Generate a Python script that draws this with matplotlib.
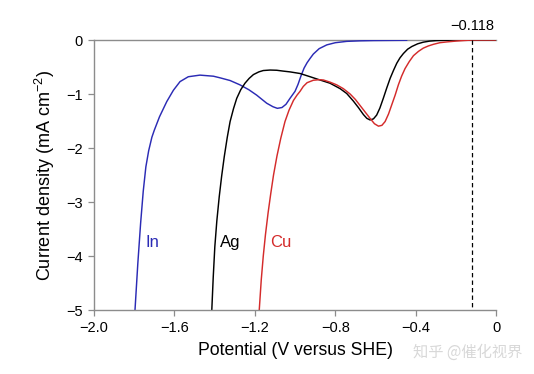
import matplotlib.pyplot as plt

plt.rcParams['font.family'] = ['Liberation Sans', 'DejaVu Sans']

# ---------------------------
# Data (V vs SHE, mA cm^-2)
# ---------------------------
in_v = [-1.796, -1.782, -1.768, -1.755, -1.742, -1.728, -1.712, -1.700, -1.674, -1.638,
        -1.605, -1.572, -1.531, -1.473, -1.406, -1.373, -1.323, -1.274, -1.230, -1.191,
        -1.141, -1.110, -1.088, -1.065, -1.045, -1.025, -1.000, -0.985, -0.970, -0.955,
        -0.940, -0.925, -0.909, -0.880, -0.842, -0.800, -0.743, -0.676, -0.610, -0.444]
in_j = [-5.00, -4.14, -3.39, -2.80, -2.35, -2.05, -1.80, -1.67, -1.42, -1.14,
        -0.93, -0.77, -0.68, -0.65, -0.67, -0.70, -0.75, -0.83, -0.92, -1.02,
        -1.17, -1.235, -1.265, -1.25, -1.19, -1.08, -0.95, -0.82, -0.66, -0.52,
        -0.42, -0.34, -0.26, -0.16, -0.09, -0.05, -0.025, -0.015, -0.01, -0.005]

ag_v = [-1.414, -1.407, -1.399, -1.389, -1.377, -1.365, -1.352, -1.337, -1.323, -1.306,
        -1.290, -1.270, -1.249, -1.228, -1.207, -1.180, -1.158, -1.124, -1.091, -1.060,
        -1.025, -0.975, -0.925, -0.876, -0.826, -0.776, -0.743, -0.710, -0.685, -0.660,
        -0.643, -0.627, -0.610, -0.594, -0.578, -0.561, -0.544, -0.527, -0.510, -0.494,
        -0.478, -0.461, -0.440, -0.419, -0.390, -0.362, -0.330, -0.295, -0.200, -0.118, 0.0]
ag_j = [-5.00, -4.40, -3.83, -3.35, -2.90, -2.52, -2.16, -1.80, -1.51, -1.27,
        -1.08, -0.92, -0.80, -0.71, -0.64, -0.59, -0.565, -0.556, -0.56, -0.575,
        -0.59, -0.62, -0.68, -0.74, -0.80, -0.90, -0.99, -1.13, -1.25, -1.38,
        -1.45, -1.48, -1.46, -1.39, -1.26, -1.08, -0.89, -0.71, -0.56, -0.43,
        -0.33, -0.25, -0.17, -0.12, -0.07, -0.04, -0.02, -0.01, 0.0, 0.0, 0.0]

cu_v = [-1.178, -1.168, -1.158, -1.147, -1.134, -1.121, -1.107, -1.090, -1.071, -1.050,
        -1.030, -1.008, -0.990, -0.975, -0.959, -0.940, -0.909, -0.880, -0.859, -0.826,
        -0.793, -0.760, -0.726, -0.700, -0.677, -0.652, -0.627, -0.605, -0.585, -0.568,
        -0.552, -0.535, -0.519, -0.502, -0.486, -0.470, -0.453, -0.432, -0.411, -0.386,
        -0.362, -0.337, -0.312, -0.280, -0.245, -0.200, -0.162, -0.118, 0.0]
cu_j = [-5.00, -4.44, -4.00, -3.60, -3.20, -2.85, -2.50, -2.15, -1.82, -1.51,
        -1.30, -1.12, -1.02, -0.95, -0.86, -0.79, -0.745, -0.735, -0.74, -0.78,
        -0.83, -0.90, -1.00, -1.10, -1.21, -1.33, -1.45, -1.55, -1.595, -1.58,
        -1.51, -1.37, -1.20, -1.02, -0.83, -0.67, -0.53, -0.40, -0.29, -0.21,
        -0.15, -0.11, -0.08, -0.05, -0.035, -0.02, -0.01, 0.0, 0.0]

x_ticks = [-2.0, -1.6, -1.2, -0.8, -0.4, 0]
x_tick_labels = ['\u22122.0', '\u22121.6', '\u22121.2', '\u22120.8', '\u22120.4', '0']
y_ticks = [0, -1, -2, -3, -4, -5]
y_tick_labels = ['0', '\u22121', '\u22122', '\u22123', '\u22124', '\u22125']
marker_v = -0.118

blue = '#2b2bb5'
red = '#d42b2b'
gray = '#8c8c8c'

fig = plt.figure(figsize=(5.34, 3.74), dpi=100)
ax = fig.add_axes([0.176, 0.171, 0.753, 0.722])

line_kw = dict(lw=1.05, solid_joinstyle='round', solid_capstyle='round')
ax.plot(in_v, in_j, color=blue, **line_kw)
ax.plot(ag_v, ag_j, color='black', **line_kw)
ax.plot(cu_v, cu_j, color=red, **line_kw)

ax.plot([marker_v, marker_v], [0, -5], color='black', lw=0.9, ls=(0, (3.5, 2.5)))
ax.text(marker_v, 0.13, '\u22120.118', ha='center', va='bottom', fontsize=10.5)

ax.text(-1.746, -3.75, 'In', color=blue, fontsize=12, va='center', ha='left')
ax.text(-1.373, -3.75, 'Ag', color='black', fontsize=12, va='center', ha='left')
ax.text(-1.124, -3.75, 'Cu', color=red, fontsize=12, va='center', ha='left')

ax.set_xlim(-2.0, 0)
ax.set_ylim(-5, 0)
ax.set_xticks(x_ticks)
ax.set_xticklabels(x_tick_labels)
ax.set_yticks(y_ticks)
ax.set_yticklabels(y_tick_labels)
ax.tick_params(direction='out', length=4, width=0.9, color=gray, labelsize=10.5, pad=4)

ax.spines['right'].set_visible(False)
for side in ['left', 'bottom', 'top']:
    ax.spines[side].set_color(gray)
    ax.spines[side].set_linewidth(1.0)
ax.spines['top'].set_zorder(0)

ax.set_xlabel('Potential (V versus SHE)', fontsize=12.7, labelpad=5)
ax.set_ylabel('Current density (mA cm$^{\\mathregular{-2}}$)', fontsize=13, labelpad=7)

fig.text(0.978, 0.057, '知乎 @催化视界', color='#d8d8d8', fontsize=11, ha='right', va='center',
         family=['Noto Sans CJK SC', 'DejaVu Sans'])

fig.savefig('out.png', dpi=100)
